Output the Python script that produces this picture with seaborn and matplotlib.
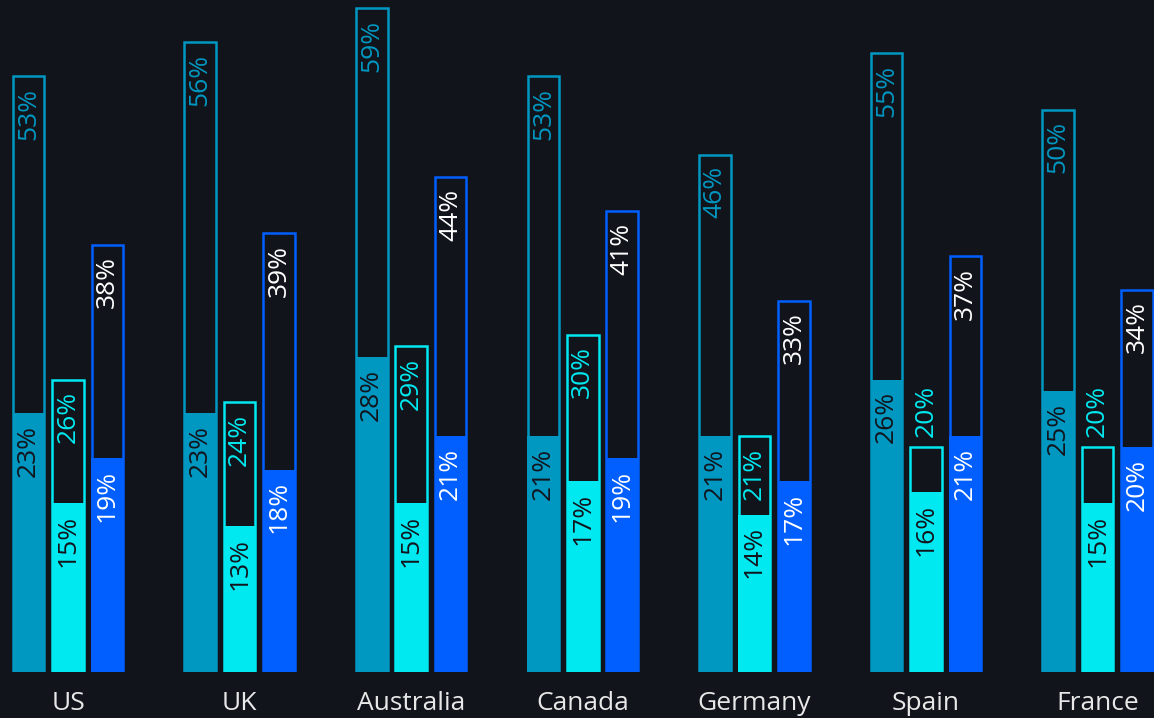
# Grouped "total vs filled" bars, dark theme
import pandas as pd
import seaborn as sns
import matplotlib.pyplot as plt

# Data
countries = ["US", "UK", "Australia", "Canada", "Germany", "Spain", "France"]
series = ["Series 1", "Series 2", "Series 3"]

# outlined (taller) bars
total_1 = [53, 56, 59, 53, 46, 55, 50]
total_2 = [26, 24, 29, 30, 21, 20, 20]
total_3 = [38, 39, 44, 41, 33, 37, 34]

# filled (inner) bars
filled_1 = [23, 23, 28, 21, 21, 26, 25]
filled_2 = [15, 13, 15, 17, 14, 16, 15]
filled_3 = [19, 18, 21, 19, 17, 21, 20]

# Build long-format table
rows = []
for s, tot, fil in zip(series, [total_1, total_2, total_3], [filled_1, filled_2, filled_3]):
    for c, t, f in zip(countries, tot, fil):
        rows.append({"country": c, "series": s, "total": t, "filled": f})
df = pd.DataFrame(rows)

bg = "#12141c"
colors = ["#0097c1", "#00e9f0", "#005ffe"]
outline_text = ["#0097c1", "#00e9f0", "#ffffff"]
filled_text = [bg, bg, "#ffffff"]

sns.set_style("dark")
plt.rcParams["font.family"] = ["Open Sans", "DejaVu Sans"]

fig = plt.figure(figsize=(11.54, 7.18), dpi=100, facecolor=bg)
ax = fig.add_axes([0, 46 / 718, 1, 672 / 718])
ax.set_facecolor(bg)

sns.barplot(data=df, x="country", y="total", hue="series", order=countries,
            hue_order=series, palette=colors, fill=False, saturation=1,
            width=0.69, gap=0.2, linewidth=1.8, errorbar=None, legend=False, ax=ax)
sns.barplot(data=df, x="country", y="filled", hue="series", order=countries,
            hue_order=series, palette=colors, fill=True, saturation=1,
            width=0.69, gap=0.19, linewidth=0, errorbar=None, legend=False, ax=ax)

outline_cont = ax.containers[:3]
filled_cont = ax.containers[3:6]

for k in range(3):
    for bo, bf in zip(outline_cont[k], filled_cont[k]):
        cx = bo.get_x() + bo.get_width() / 2
        ht, hf = bo.get_height(), bf.get_height()
        # label of outline bar: inside at top, or above if the gap is too small
        if ht - hf < 6:
            ax.annotate(f"{ht:.0f}%", (cx, ht), xytext=(0, 7), textcoords="offset points",
                        rotation=90, ha="center", va="bottom", fontsize=19,
                        color=outline_text[k])
        else:
            ax.annotate(f"{ht:.0f}%", (cx, ht), xytext=(0, -8.5), textcoords="offset points",
                        rotation=90, ha="center", va="top", fontsize=19,
                        color=outline_text[k])
        ax.annotate(f"{hf:.0f}%", (cx, hf), xytext=(0, -8.5), textcoords="offset points",
                    rotation=90, ha="center", va="top", fontsize=19,
                    color=filled_text[k])

ax.set_xlim(-68 / 171.6, (1154 - 68) / 171.6)
ax.set_ylim(0, 672 / 11.25)
ax.set_yticks([])
ax.set_xlabel("")
ax.set_ylabel("")
ax.tick_params(axis="x", length=0, pad=14, labelsize=19, colors="#e8e8e8")
ax.grid(False)
for sp in ax.spines.values():
    sp.set_visible(False)

fig.savefig("out.png", dpi=100, facecolor=bg)
